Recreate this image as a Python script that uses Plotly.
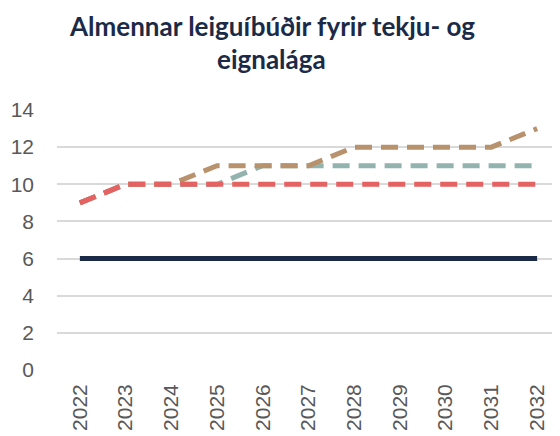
import plotly.graph_objects as go

years = ["2022", "2023", "2024", "2025", "2026", "2027", "2028", "2029", "2030", "2031", "2032"]
navy_vals = [6, 6, 6, 6, 6, 6, 6, 6, 6, 6, 6]
red_vals = [9, 10, 10, 10, 10, 10, 10, 10, 10, 10, 10]
teal_vals = [9, 10, 10, 10, 11, 11, 11, 11, 11, 11, 11]
tan_vals = [9, 10, 10, 11, 11, 11, 12, 12, 12, 12, 13]
y_ticks = [0, 2, 4, 6, 8, 10, 12, 14]
title_lines = ["<b>Almennar leiguíbúðir fyrir tekju- og</b>", "<b>eignalága</b>"]

fig = go.Figure()
fig.add_trace(go.Scatter(x=years, y=teal_vals, mode="lines",
                         line=dict(color="#93B3AF", width=5, dash="17px,9px")))
fig.add_trace(go.Scatter(x=years, y=tan_vals, mode="lines",
                         line=dict(color="#B8926C", width=5, dash="17px,9px")))
fig.add_trace(go.Scatter(x=years, y=red_vals, mode="lines",
                         line=dict(color="#E46262", width=5, dash="17px,9px")))
fig.add_trace(go.Scatter(x=years, y=navy_vals, mode="lines",
                         line=dict(color="#1B2A47", width=5)))

# page body has an 8px margin, so the figure is sized/offset to compensate
for txt, ypos in zip(title_lines, [1.324, 1.197]):
    fig.add_annotation(text=txt, xref="paper", yref="paper",
                       x=0.4274, y=ypos, xanchor="center", yanchor="middle",
                       showarrow=False,
                       font=dict(family="Lato", size=26, color="#1B2A47"))

fig.update_layout(
    width=552, height=428,
    margin=dict(l=49, r=0, t=102, b=66, autoexpand=False),
    paper_bgcolor="white", plot_bgcolor="white",
    showlegend=False,
    xaxis=dict(type="category", range=[-0.5, 10.5], tickangle=-90,
               showgrid=False, showline=False, zeroline=False,
               tickfont=dict(family="Liberation Sans", size=21, color="#595959"),
               ticks="", ticklen=0, ticklabelstandoff=9, automargin=False),
    yaxis=dict(range=[0, 14], tickvals=y_ticks, showgrid=True,
               gridcolor="#D9D9D9", gridwidth=1.5, zeroline=False,
               tickfont=dict(family="Liberation Sans", size=21, color="#595959"),
               ticks="", ticklabelstandoff=22, automargin=False),
)
fig.write_html("out.html")
